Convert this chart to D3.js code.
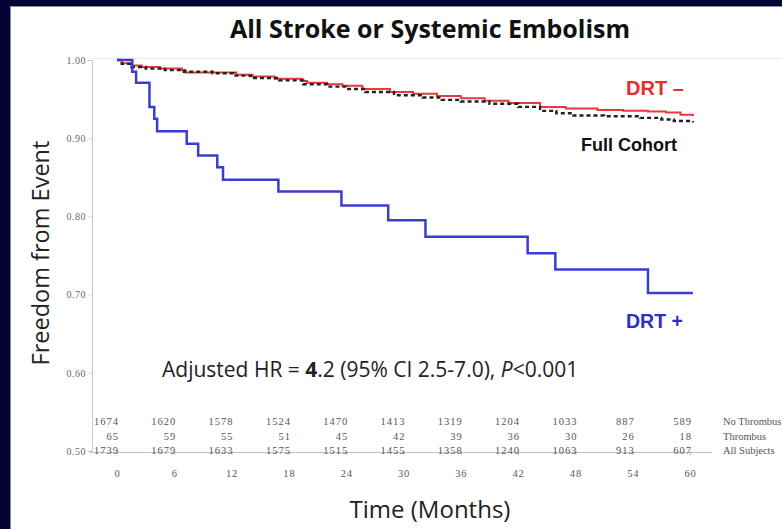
<!DOCTYPE html>
<html>
<head>
<meta charset="utf-8">
<script src="https://cdn.jsdelivr.net/npm/d3@7"></script>
<style>
  body { margin: 0; background: #030335; }
  svg { display: block; }
</style>
</head>
<body>
<svg id="svg" width="782" height="529"></svg>
<script>
// number at risk table
let months = [0, 6, 12, 18, 24, 30, 36, 42, 48, 54, 60];
let riskNoThrombus = [1674, 1620, 1578, 1524, 1470, 1413, 1319, 1204, 1033, 887, 589];
let riskThrombus = [65, 59, 55, 51, 45, 42, 39, 36, 30, 26, 18];
let riskAll = [1739, 1679, 1633, 1575, 1515, 1455, 1358, 1240, 1063, 913, 607];
let riskLabels = ["No Thrombus", "Thrombus", "All Subjects"];
let yTicks = [1.00, 0.90, 0.80, 0.70, 0.60, 0.50];

// kaplan-meier curves
let drtNegTimes = [0, 0.5, 1.5, 2.6, 4.5, 6.8, 7.2, 12.5, 14.2, 16.5, 19.4, 19.9, 22, 23.6, 25.7, 28.6, 31, 33.5, 36, 38.5, 41, 44.3, 47, 50.3, 53, 55.6, 57.5, 59, 60.3];
let drtNegVals = [1.000, 0.996, 0.993, 0.991, 0.989, 0.987, 0.984, 0.981, 0.979, 0.976, 0.973, 0.971, 0.969, 0.967, 0.963, 0.959, 0.957, 0.954, 0.951, 0.948, 0.945, 0.940, 0.938, 0.936, 0.935, 0.934, 0.933, 0.930, 0.928];

let fullTimes = [0, 0.5, 1.5, 3, 5, 7, 10, 12.2, 14, 17, 19.5, 22, 24, 26, 29, 32, 34, 36, 39, 42, 44.3, 46, 47.8, 51, 54.8, 57, 58.3, 60.3];
let fullVals = [1.000, 0.995, 0.991, 0.989, 0.987, 0.985, 0.983, 0.980, 0.977, 0.974, 0.969, 0.966, 0.963, 0.959, 0.955, 0.952, 0.949, 0.947, 0.944, 0.940, 0.935, 0.932, 0.929, 0.928, 0.926, 0.924, 0.922, 0.920];

let drtPosTimes = [0, 1.6, 2.0, 3.4, 3.9, 4.2, 7.3, 8.5, 10.5, 11.1, 16.9, 23.5, 28.4, 32.3, 43.0, 45.9, 55.6, 60.3];
let drtPosVals = [1.000, 0.985, 0.971, 0.940, 0.925, 0.909, 0.893, 0.878, 0.863, 0.847, 0.832, 0.814, 0.795, 0.774, 0.753, 0.732, 0.702, 0.702];

const toPoints = function(times, vals) {
  return times.map((t, i) => ({ t: t, v: vals[i] }));
}

const svg = d3.select("#svg");

// dark frame + white slide panel
svg.append("rect").attr("width", 782).attr("height", 529).attr("fill", "#030335");
svg.append("rect").attr("x", 11).attr("y", 6).attr("width", 771).attr("height", 523).attr("fill", "#fff");
svg.append("line").attr("x1", 10.5).attr("x2", 10.5).attr("y1", 6).attr("y2", 529)
  .attr("stroke", "#8a8ab0").attr("stroke-width", 1);
svg.append("line").attr("x1", 11).attr("x2", 782).attr("y1", 6.5).attr("y2", 6.5)
  .attr("stroke", "#8a8ab0").attr("stroke-width", 1);

let x = d3.scaleLinear().domain([0, 60]).range([117, 690]);
let y = d3.scaleLinear().domain([0.5, 1.0]).range([451, 60]);

const serif = "'Liberation Serif', serif";

// top frame line
svg.append("line").attr("x1", 92).attr("x2", 782).attr("y1", 58.5).attr("y2", 58.5)
  .attr("stroke", "#ececec");

// y axis
let yAxis = svg.append("g")
  .attr("transform", "translate(92,0)")
  .call(d3.axisLeft(y).tickValues(yTicks).tickFormat(d3.format(".2f")).tickSize(4).tickPadding(2));
yAxis.select(".domain").attr("stroke", "#c8c8c8");
yAxis.selectAll(".tick line").attr("stroke", "#bbb").attr("stroke-dasharray", "1,1");
yAxis.selectAll(".tick text")
  .attr("fill", "#666")
  .style("font-family", serif)
  .style("font-size", "10px")
  .style("letter-spacing", "0.5px");

// x axis
svg.append("line").attr("x1", 90).attr("x2", 712).attr("y1", 452.5).attr("y2", 452.5)
  .attr("stroke", "#c0c0c0");
let xAxis = svg.append("g")
  .attr("transform", "translate(0,451)")
  .call(d3.axisBottom(x).tickValues(months).tickSize(4).tickPadding(15));
xAxis.select(".domain").remove();
xAxis.selectAll(".tick line").attr("stroke", "#bbb");
xAxis.selectAll(".tick text")
  .attr("fill", "#555")
  .style("font-family", serif)
  .style("font-size", "10.5px")
  .style("letter-spacing", "0.8px");

// number at risk rows
let rows = [riskNoThrombus, riskThrombus, riskAll];
let rowY = [425, 440, 454];
rows.forEach((row, r) => {
  svg.append("g").selectAll("text")
    .data(row)
    .enter().append("text")
    .attr("x", (d, i) => x(months[i]) + 2)
    .attr("y", rowY[r])
    .attr("text-anchor", "end")
    .attr("fill", "#555")
    .style("font-family", serif)
    .style("font-size", "10.5px")
    .style("letter-spacing", "1px")
    .text(d => d);
  svg.append("text")
    .attr("x", 723)
    .attr("y", rowY[r])
    .attr("fill", "#555")
    .style("font-family", serif)
    .style("font-size", "10.5px")
    .text(riskLabels[r]);
});

// curves
let line = d3.line()
  .curve(d3.curveStepAfter)
  .x(d => x(d.t))
  .y(d => y(d.v));

svg.append("path")
  .datum(toPoints(drtNegTimes, drtNegVals))
  .attr("fill", "none")
  .attr("stroke", "#e8383c")
  .attr("stroke-width", 2)
  .attr("d", line);

svg.append("path")
  .datum(toPoints(fullTimes, fullVals))
  .attr("fill", "none")
  .attr("stroke", "#222")
  .attr("stroke-width", 2.4)
  .attr("stroke-dasharray", "4,3")
  .attr("d", line);

svg.append("path")
  .datum(toPoints(drtPosTimes, drtPosVals))
  .attr("fill", "none")
  .attr("stroke", "#3c3cd2")
  .attr("stroke-width", 2.5)
  .attr("d", line);

// texts
svg.append("text")
  .attr("x", 430).attr("y", 38)
  .attr("text-anchor", "middle")
  .attr("fill", "#111")
  .style("font-family", "'Open Sans', sans-serif")
  .style("font-weight", "bold")
  .style("font-size", "25px")
  .text("All Stroke or Systemic Embolism");

svg.append("text")
  .attr("transform", "translate(49,253) rotate(-90)")
  .attr("text-anchor", "middle")
  .attr("fill", "#222")
  .style("font-family", "'Open Sans', sans-serif")
  .style("font-size", "23.5px")
  .text("Freedom from Event");

svg.append("text")
  .attr("x", 430).attr("y", 518)
  .attr("text-anchor", "middle")
  .attr("fill", "#222")
  .style("font-family", "'Open Sans', sans-serif")
  .style("font-size", "24px")
  .text("Time (Months)");

let hr = svg.append("text")
  .attr("x", 162).attr("y", 377)
  .attr("fill", "#222")
  .style("font-family", "'Open Sans', sans-serif")
  .style("font-size", "21px");
hr.append("tspan").text("Adjusted HR = ");
hr.append("tspan").style("font-weight", "bold").text("4");
hr.append("tspan").text(".2 (95% CI 2.5-7.0), ");
hr.append("tspan").style("font-style", "italic").text("P");
hr.append("tspan").text("<0.001");

svg.append("text")
  .attr("x", 626).attr("y", 95)
  .attr("fill", "#e3302f")
  .style("font-family", "'Liberation Sans', Arial, sans-serif")
  .style("font-weight", "bold")
  .style("font-size", "20px")
  .text("DRT \u2013");

svg.append("text")
  .attr("x", 581).attr("y", 151)
  .attr("fill", "#111")
  .style("font-family", "'Liberation Sans', Arial, sans-serif")
  .style("font-weight", "bold")
  .style("font-size", "18px")
  .text("Full Cohort");

svg.append("text")
  .attr("x", 626).attr("y", 328)
  .attr("fill", "#2f2fc8")
  .style("font-family", "'Liberation Sans', Arial, sans-serif")
  .style("font-weight", "bold")
  .style("font-size", "19.5px")
  .text("DRT +");
</script>
</body>
</html>
